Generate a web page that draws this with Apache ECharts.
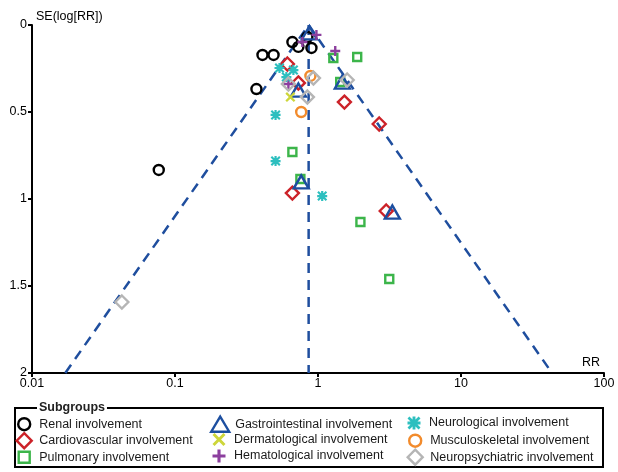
<!DOCTYPE html>
<html>
<head>
<meta charset="utf-8">
<script src="https://cdn.jsdelivr.net/npm/echarts@6/dist/echarts.min.js"></script>
<style>
html,body{margin:0;padding:0;background:#fff;}
#chart{width:618px;height:472px;}
</style>
</head>
<body>
<div id="chart"></div>
<script>
// ---- Data (RR, SE(log[RR])) ----
const renalRR = [0.077, 0.371, 0.409, 0.489, 0.662, 0.729, 0.843, 0.90];
const renalSE = [0.833, 0.368, 0.172, 0.172, 0.098, 0.126, 0.069, 0.132];
const cardioRR = [0.611, 0.729, 1.53, 2.68, 0.662, 3.00];
const cardioSE = [0.224, 0.333, 0.443, 0.569, 0.966, 1.069];
const pulmRR = [1.28, 1.88, 1.43, 0.662, 0.753, 1.98, 3.15];
const pulmSE = [0.190, 0.184, 0.328, 0.730, 0.885, 1.132, 1.460];
const giRR = [0.871, 0.729, 1.48, 0.763, 3.31];
const giSE = [0.045, 0.374, 0.328, 0.902, 1.075];
const dermRR = [0.641];
const dermSE = [0.414];
const hematRR = [0.975, 0.778, 1.32, 0.621];
const hematSE = [0.057, 0.098, 0.149, 0.339];
const neuroRR = [0.538, 0.673, 0.601, 0.505, 0.505, 1.07];
const neuroSE = [0.247, 0.259, 0.299, 0.517, 0.782, 0.983];
const muscRR = [0.885, 0.763];
const muscSE = [0.293, 0.500];
const npsyRR = [0.0425, 0.621, 0.929, 0.843, 1.60];
const npsySE = [1.592, 0.339, 0.305, 0.414, 0.316];

// pooled estimate and funnel limits
const pooledRR = [0.86, 0.86];
const pooledSE = [0, 2];
const funnelRR = [0.0171, 0.86, 43.3];
const funnelSE = [2, 0, 2];

const xTickValues = [0.01, 0.1, 1, 10, 100];
const xTickLabels = ['0.01', '0.1', '1', '10', '100'];
const yTickValues = [0, 0.5, 1, 1.5, 2];
const yTickLabels = ['0', '0.5', '1', '1.5', '2'];

const names = ['Renal involvement', 'Cardiovascular involvement', 'Pulmonary involvement',
  'Gastrointestinal involvement', 'Dermatological involvement', 'Hematological involvement',
  'Neurological involvement', 'Musculoskeletal involvement', 'Neuropsychiatric involvement'];

function pairs(a, b) { return a.map((v, i) => [v, b[i]]); }

const PLUS = 'path://M3.8,0H6.2V3.8H10V6.2H6.2V10H3.8V6.2H0V3.8H3.8Z';
const CROSS = 'path://M0,1.6L1.6,0L5,3.4L8.4,0L10,1.6L6.6,5L10,8.4L8.4,10L5,6.6L1.6,10L0,8.4L3.4,5Z';
const STAR = 'path://M3.9,0H6.1V3.9H10V6.1H6.1V10H3.9V6.1H0V3.9H3.9Z M0,1.5L1.5,0L5,3.5L8.5,0L10,1.5L6.5,5L10,8.5L8.5,10L5,6.5L1.5,10L0,8.5L3.5,5Z';

const styles = [
  { symbol: 'circle', size: 10, color: '#000000', hollow: true, bw: 2.4, leg: [12, 12] },
  { symbol: 'diamond', size: 13, color: '#cc2229', hollow: true, bw: 2.4, leg: [15, 15] },
  { symbol: 'rect', size: 8, color: '#3cb54a', hollow: true, bw: 2.4, leg: [11, 11] },
  { symbol: 'triangle', size: [15, 13], color: '#1d4fa0', hollow: true, bw: 2.4, leg: [18, 15] },
  { symbol: CROSS, size: 10, color: '#cdd63a', hollow: false, leg: [13, 13] },
  { symbol: PLUS, size: 10, color: '#8c3f9e', hollow: false, leg: [13, 13] },
  { symbol: STAR, size: 10, color: '#2dbfbf', hollow: false, leg: [13, 13] },
  { symbol: 'circle', size: 10, color: '#f28b2c', hollow: true, bw: 2.4, leg: [12, 12] },
  { symbol: 'diamond', size: 13, color: '#b5b5b5', hollow: true, bw: 2.4, leg: [15, 15] }
];
const dataSets = [
  pairs(renalRR, renalSE), pairs(cardioRR, cardioSE), pairs(pulmRR, pulmSE),
  pairs(giRR, giSE), pairs(dermRR, dermSE), pairs(hematRR, hematSE),
  pairs(neuroRR, neuroSE), pairs(muscRR, muscSE), pairs(npsyRR, npsySE)
];

function itemStyleOf(s) {
  return s.hollow
    ? { color: 'rgba(255,255,255,0)', borderColor: s.color, borderWidth: s.bw, opacity: 1 }
    : { color: s.color, borderWidth: 0, opacity: 1 };
}

const lineColor = '#1f4e9e';
const series = [
  {
    type: 'line', name: 'pooled', data: pairs(pooledRR, pooledSE), symbol: 'none', silent: true,
    lineStyle: { color: lineColor, width: 2.5, type: [10, 7] }, z: 1
  },
  {
    type: 'line', name: 'funnel', data: pairs(funnelRR, funnelSE), symbol: 'none', silent: true,
    lineStyle: { color: lineColor, width: 2.5, type: [10, 7] }, z: 1
  }
];
names.forEach((n, i) => {
  const s = styles[i];
  series.push({
    type: 'scatter', name: n, data: dataSets[i], symbol: s.symbol, symbolSize: s.size,
    itemStyle: itemStyleOf(s), z: 2 + i, emphasis: { disabled: true }
  });
});

// one legend component per entry: 3 columns x 3 rows
const legendColCenter = [23, 219, 414];
const legendRowCenter = [423, 439.5, 456];
const legends = names.map((n, i) => {
  const col = Math.floor(i / 3), row = i % 3;
  const s = styles[i];
  const w = s.leg[0], h = s.leg[1];
  return {
    left: legendColCenter[col] - w / 2, top: legendRowCenter[row] - h / 2, orient: 'vertical', padding: 0,
    itemWidth: w, itemHeight: h, selectedMode: false,
    textStyle: { fontSize: 12.5, color: '#1a1a1a', fontFamily: 'Liberation Sans, Arial, sans-serif',
      padding: [0, 0, 0, 10 - w / 2] },
    data: [{ name: n, icon: s.symbol, itemStyle: itemStyleOf(s) }]
  };
});

const chart = echarts.init(document.getElementById('chart'), null, { renderer: 'canvas' });
chart.setOption({
  animation: false,
  backgroundColor: '#fff',
  textStyle: { fontFamily: 'Liberation Sans, Arial, sans-serif' },
  grid: { left: 32, right: 14, top: 25, bottom: 99, containLabel: false },
  xAxis: {
    type: 'log', logBase: 10, min: 0.01, max: 100,
    name: 'RR', nameLocation: 'end', nameGap: 0,
    nameTextStyle: { color: '#000', fontSize: 12.5, align: 'right', verticalAlign: 'bottom', padding: [0, 4, 4, 0] },
    axisLine: { show: true, onZero: false, lineStyle: { color: '#000', width: 2 } },
    axisTick: { show: true, length: 4, lineStyle: { color: '#000', width: 2 } },
    minorTick: { show: false },
    axisLabel: {
      color: '#000', fontSize: 12.5, margin: 4, showMinLabel: true, showMaxLabel: true,
      formatter: v => { const k = xTickValues.findIndex(t => Math.abs(Math.log10(t) - Math.log10(v)) < 1e-6); return k >= 0 ? xTickLabels[k] : ''; }
    },
    splitLine: { show: false }
  },
  yAxis: {
    type: 'value', inverse: true, min: 0, max: 2, interval: 0.5,
    name: 'SE(log[RR])', nameLocation: 'start', nameGap: 2,
    nameTextStyle: { color: '#000', fontSize: 12.5, align: 'left', verticalAlign: 'bottom', padding: [0, 0, 0, 4] },
    axisLine: { show: true, onZero: false, lineStyle: { color: '#000', width: 2 } },
    axisTick: { show: true, length: 4, lineStyle: { color: '#000', width: 2 } },
    axisLabel: {
      color: '#000', fontSize: 12.5, margin: 5,
      formatter: v => { const k = yTickValues.findIndex(t => Math.abs(t - v) < 1e-6); return k >= 0 ? yTickLabels[k] : ''; }
    },
    splitLine: { show: false }
  },
  legend: legends,
  graphic: [
    { type: 'rect', shape: { x: 15, y: 408, width: 588, height: 59 }, style: { fill: 'none', stroke: '#000', lineWidth: 2 }, silent: true, z: 0 },
    { type: 'text', x: 37, y: 408, style: { text: 'Subgroups', font: 'bold 12.5px Liberation Sans, Arial, sans-serif', fill: '#222', verticalAlign: 'middle', backgroundColor: '#fff', padding: [0, 2] }, silent: true, z: 1 }
  ],
  series: series
});
</script>
</body>
</html>
